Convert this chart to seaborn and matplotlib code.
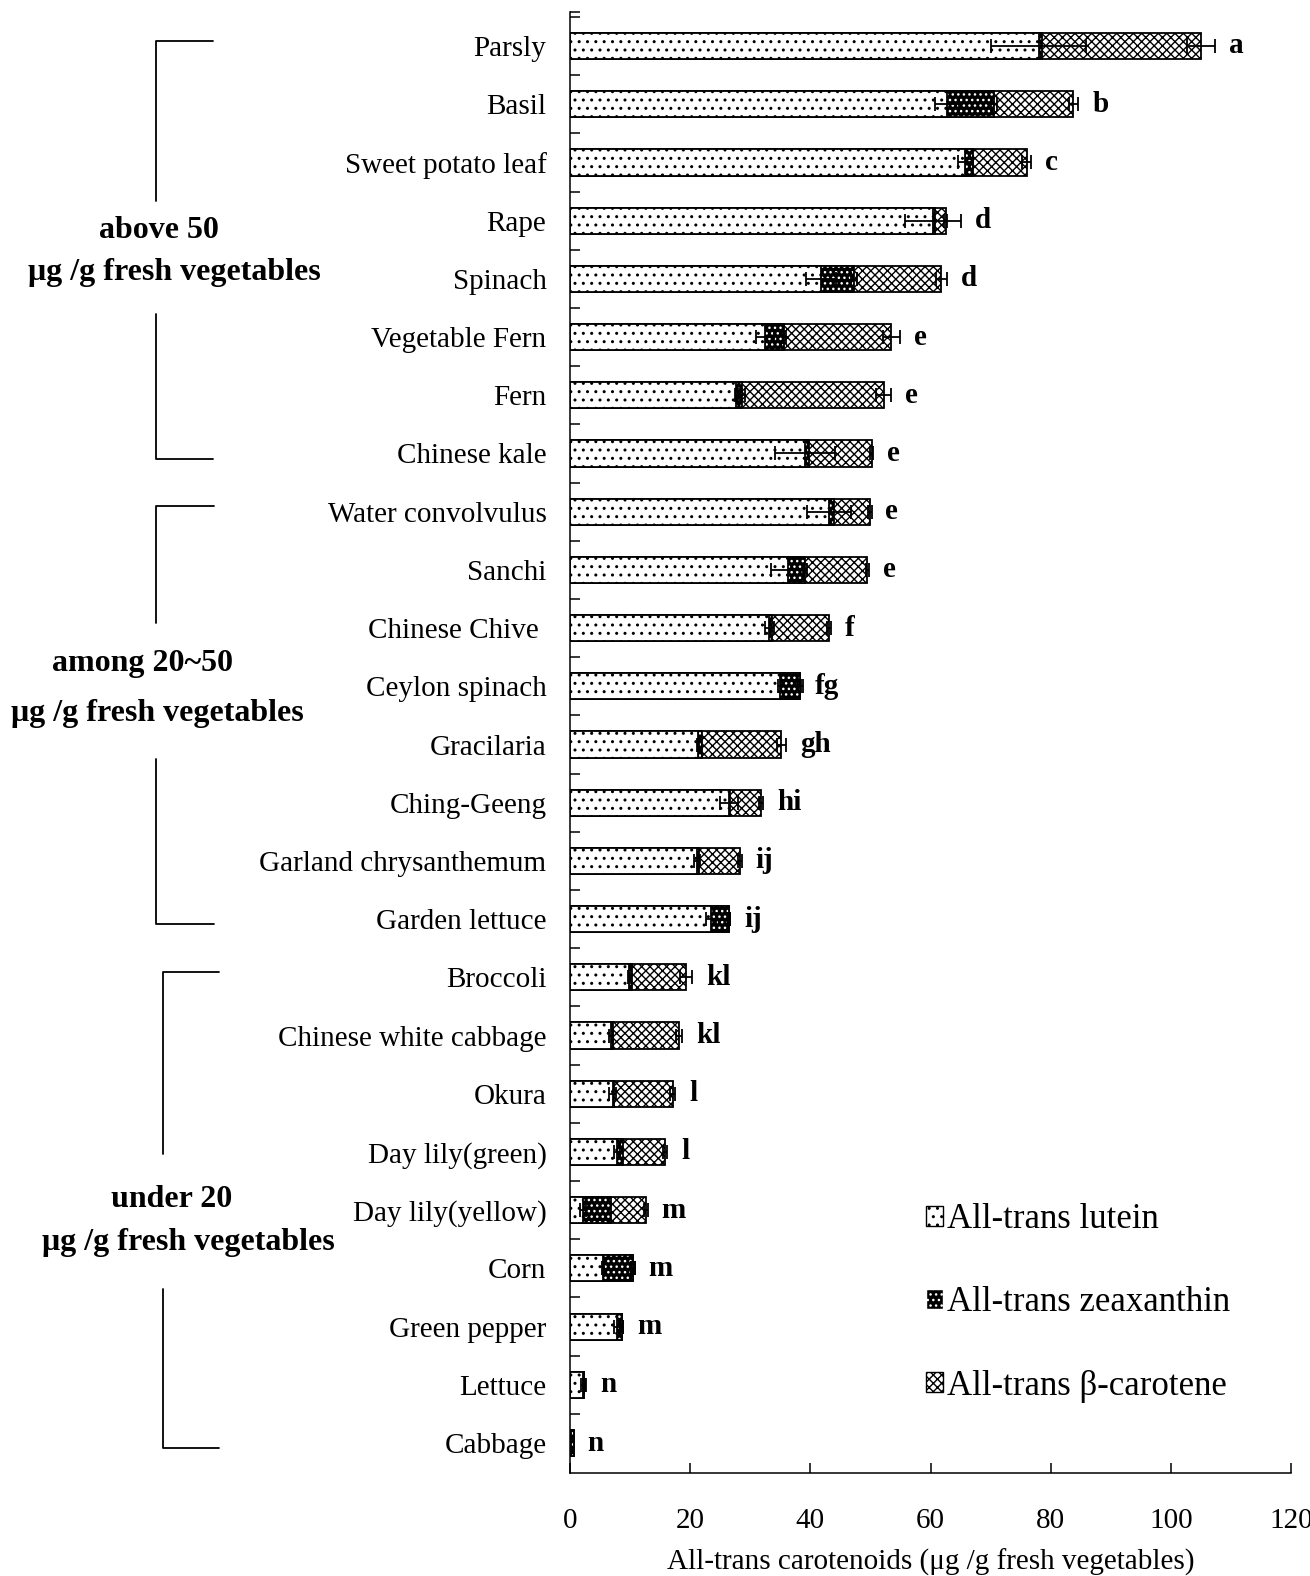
import numpy as np
import pandas as pd
import matplotlib
matplotlib.use("Agg")
import matplotlib.pyplot as plt
import seaborn as sns
from matplotlib.patches import Patch, Rectangle
from matplotlib.lines import Line2D

# ---- data (µg/g fresh vegetables) ----
vegetables = [
    "Parsly", "Basil", "Sweet potato leaf", "Rape", "Spinach", "Vegetable Fern",
    "Fern", "Chinese kale", "Water convolvulus", "Sanchi", "Chinese Chive ",
    "Ceylon spinach", "Gracilaria", "Ching-Geeng", "Garland chrysanthemum",
    "Garden lettuce", "Broccoli", "Chinese white cabbage", "Okura",
    "Day lily(green)", "Day lily(yellow)", "Corn", "Green pepper", "Lettuce",
    "Cabbage",
]
lutein = [78.0, 62.8, 65.8, 60.4, 41.8, 32.4, 27.7, 39.1, 43.1, 36.2, 33.2,
          34.9, 21.3, 26.4, 21.1, 23.5, 9.9, 6.8, 7.1, 7.9, 2.1, 5.5, 7.9,
          2.2, 0.2]
zeaxanthin = [0.6, 7.8, 1.2, 0.4, 5.4, 3.3, 1.0, 0.7, 0.8, 2.9, 0.5,
              3.3, 0.6, 0.3, 0.3, 3.0, 0.5, 0.4, 0.3, 0.9, 4.8, 5.0, 0.7,
              0.2, 0.4]
beta_carotene = [26.4, 13.2, 9.0, 1.7, 14.6, 17.8, 23.5, 10.4, 6.0, 10.4, 9.4,
                 0.0, 13.3, 5.1, 6.9, 0.0, 8.9, 11.0, 9.7, 7.0, 5.7, 0.0, 0.0,
                 0.0, 0.0]
lutein_err = [7.9, 2.0, 1.2, 4.7, 2.5, 1.5, 0.3, 5.0, 3.7, 2.7, 0.8,
              0.3, 0.2, 1.5, 0.5, 0.8, 0.3, 0.3, 0.6, 0.5, 0.5, 0.2, 0.5,
              0.3, 0.0]
zeaxanthin_err = [0.0, 0.5, 0.0, 0.0, 0.5, 0.3, 0.4, 0.0, 0.0, 0.3, 0.0,
                  0.5, 0.0, 0.0, 0.0, 0.2, 0.0, 0.0, 0.0, 0.0, 0.0, 0.3, 0.3,
                  0.0, 0.0]
total_err = [2.3, 0.8, 0.8, 0.3, 0.9, 1.4, 1.2, 0.3, 0.3, 0.3, 0.3,
             0.3, 0.8, 0.4, 0.3, 0.2, 1.0, 0.5, 0.4, 0.4, 0.3, 0.3, 0.3,
             0.3, 0.0]
letters = ["a", "b", "c", "d", "d", "e", "e", "e", "e", "e", "f", "fg", "gh",
           "hi", "ij", "ij", "kl", "kl", "l", "l", "m", "m", "m", "n", "n"]

group_titles = ["above 50", "among 20~50", "under 20"]
group_unit = "\u03bcg /g fresh vegetables"
group_first = [0, 8, 16]
group_last = [7, 15, 24]

legend_labels = ["All-trans lutein", "All-trans zeaxanthin",
                 "All-trans \u03b2-carotene"]
x_ticks = [0, 20, 40, 60, 80, 100, 120]
x_label = "All-trans carotenoids (\u03bcg /g fresh vegetables)"

# ---- style ----
sns.set_theme(style="white")
plt.rcParams["font.family"] = ["Liberation Serif", "DejaVu Serif"]
plt.rcParams["hatch.linewidth"] = 1.0

W, H = 1310, 1576
fig = plt.figure(figsize=(W / 100, H / 100), dpi=100)
ax_l, ax_r, ax_t, ax_b = 570, 1291, 12, 1473
ax = fig.add_axes([ax_l / W, 1 - ax_b / H, (ax_r - ax_l) / W, (ax_b - ax_t) / H])

df = pd.DataFrame({
    "vegetable": vegetables,
    "lutein": lutein,
    "zeaxanthin": zeaxanthin,
    "beta": beta_carotene,
})
df["lut_zea"] = df["lutein"] + df["zeaxanthin"]
df["total"] = df["lut_zea"] + df["beta"]

bar_w = 0.45
lw = 1.3
n = len(vegetables)

# stacked bars: total first, then lutein+zeaxanthin, then lutein on top
sns.barplot(data=df, y="vegetable", x="total", order=vegetables, orient="h",
            width=bar_w, color="white", edgecolor="black", linewidth=lw,
            saturation=1, errorbar=None, ax=ax)
sns.barplot(data=df, y="vegetable", x="lut_zea", order=vegetables, orient="h",
            width=bar_w, color="black", edgecolor="white", linewidth=0,
            saturation=1, errorbar=None, ax=ax)
sns.barplot(data=df, y="vegetable", x="lutein", order=vegetables, orient="h",
            width=bar_w, color="white", edgecolor="black", linewidth=lw,
            saturation=1, errorbar=None, ax=ax)

patches = ax.patches
beta_bars = patches[0:n]
zea_bars = patches[n:2 * n]
lut_bars = patches[2 * n:3 * n]
for p in beta_bars:
    p.set_hatch("xxxx")
for p in zea_bars:
    p.set_hatch("...")
    p.set_facecolor("black")
    p.set_edgecolor("white")
    # outline of the zeaxanthin segment
    ax.add_patch(Rectangle(p.get_xy(), p.get_width(), p.get_height(),
                           fill=False, edgecolor="black", linewidth=lw,
                           zorder=p.get_zorder() + 0.1))
for p in lut_bars:
    p.set_hatch("..")
    p.set_zorder(p.get_zorder() + 0.2)

# error bars at the end of each segment
pos = np.arange(n)
tot = df["total"].to_numpy()
lz = df["lut_zea"].to_numpy()
ekw = dict(fmt="none", ecolor="black", elinewidth=1.3, capsize=5, capthick=1.3, zorder=5)
le = np.array(lutein_err)
m = le > 0
ax.errorbar(np.array(lutein)[m], pos[m], xerr=le[m], **ekw)
ze = np.array(zeaxanthin_err)
m = ze > 0
ax.errorbar(lz[m], pos[m], xerr=ze[m], **ekw)
te = np.array(total_err)
m = te > 0
ax.errorbar(tot[m], pos[m], xerr=te[m], **ekw)

# significance letters
reach = np.maximum(tot + te, np.array(lutein) + le)
for i, lab in enumerate(letters):
    ax.text(reach[i] + 2.3, i, lab, ha="left", va="center",
            fontsize=21, fontweight="bold", color="black")

# axes
ax.set_xlim(0, 120)
ax.set_ylim(n - 0.485, -0.584)
ax.set_xticks(x_ticks)
ax.set_xticklabels([str(t) for t in x_ticks])
ax.set_yticks(pos)
ax.set_yticklabels(vegetables)
ax.set_yticks(np.append(np.arange(n) - 0.5, -0.584), minor=True)
ax.tick_params(axis="y", which="major", length=0, pad=17, labelsize=21, labelcolor="black")
ax.tick_params(axis="y", which="minor", direction="in", length=7.5, width=1.1,
               color="black", left=True)
ax.tick_params(axis="x", which="major", direction="in", length=7.5, width=1.1,
               color="black", pad=25, labelsize=21, labelcolor="black", bottom=True)
ax.set_ylabel("")
ax.set_xlabel(x_label, fontsize=21, color="black", labelpad=11)
for s in ["top", "right"]:
    ax.spines[s].set_visible(False)
for s in ["left", "bottom"]:
    ax.spines[s].set_color("black")
    ax.spines[s].set_linewidth(1.1)

# group brackets on the left
ytr = ax.get_yaxis_transform()


def px2ax(px):
    return (px - ax_l) / (ax_r - ax_l)


def ypx2data(ypx):
    return (ypx - 46) / 58.2


bracket_x = [156, 156, 163]
bracket_end = [213, 214, 219]
gap_top = [201, 623, 1154]
gap_bot = [314, 759, 1289]
title_y = [230, 663, 1199]
unit_y = [272, 713, 1242]
title_cx = [159, 142, 172]
unit_cx = [174, 157, 188]
for g in range(3):
    x0 = px2ax(bracket_x[g])
    x1 = px2ax(bracket_end[g])
    y0 = group_first[g] - 0.09
    y1 = group_last[g] + 0.09
    kw = dict(color="black", linewidth=1.3, transform=ytr, clip_on=False)
    ax.add_line(Line2D([x1, x0, x0], [y0, y0, ypx2data(gap_top[g])], **kw))
    ax.add_line(Line2D([x0, x0, x1], [ypx2data(gap_bot[g]), y1, y1], **kw))
    ax.text(px2ax(title_cx[g]), ypx2data(title_y[g]), group_titles[g],
            transform=ytr, ha="center", va="center", fontsize=23,
            fontweight="bold", color="black")
    ax.text(px2ax(unit_cx[g]), ypx2data(unit_y[g]), group_unit,
            transform=ytr, ha="center", va="center", fontsize=23,
            fontweight="bold", color="black")

# legend
handles = [
    Patch(facecolor="white", edgecolor="black", hatch="..", linewidth=1.0),
    Patch(facecolor="black", edgecolor="white", hatch="...", linewidth=1.0),
    Patch(facecolor="white", edgecolor="black", hatch="xxxx", linewidth=1.0),
]
leg = ax.legend(handles, legend_labels, loc="upper left",
                bbox_to_anchor=(px2ax(926), 1 - (1203 - ax_t) / (ax_b - ax_t)),
                frameon=False, fontsize=25, handlelength=0.5, handleheight=0.5,
                handletextpad=0.1, labelspacing=1.45, borderpad=0, borderaxespad=0)
for t in leg.get_texts():
    t.set_color("black")

fig.savefig("out.png", dpi=100, facecolor="white")
